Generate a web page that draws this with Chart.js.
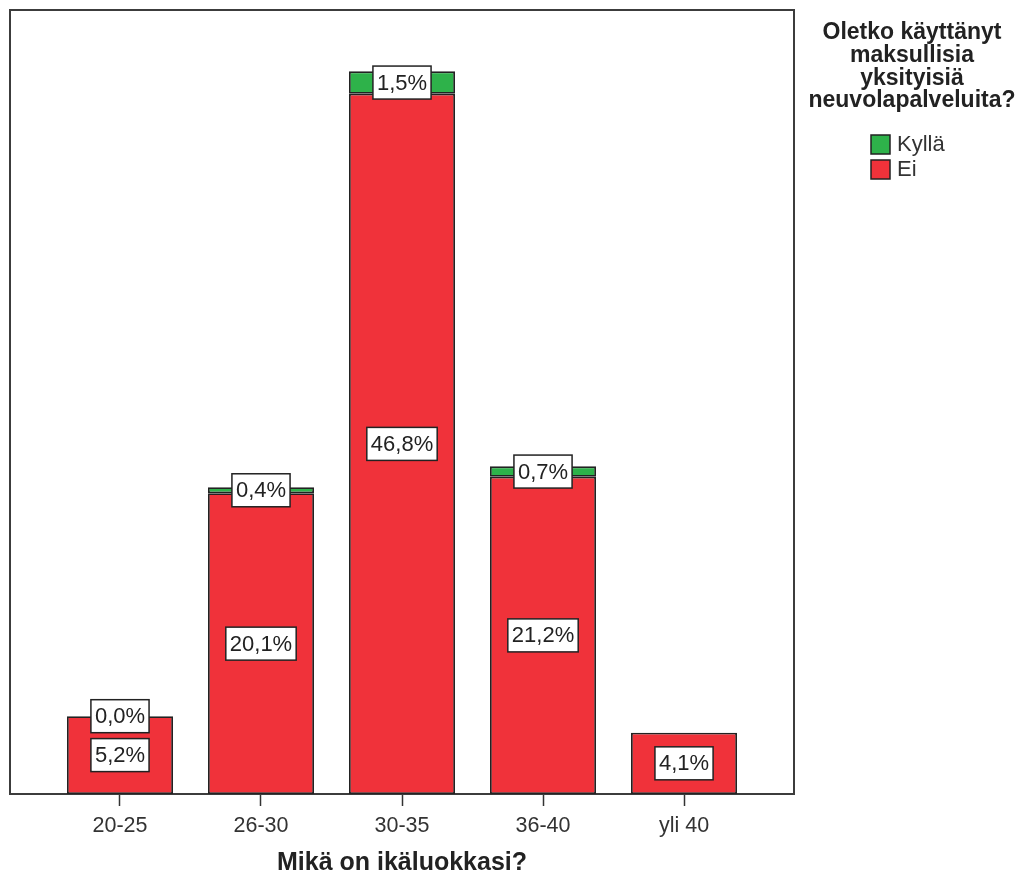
<!DOCTYPE html>
<html>
<head>
<meta charset="utf-8">
<script src="https://cdn.jsdelivr.net/npm/chart.js@4"></script>
<style>
  html, body { margin: 0; padding: 0; background: #ffffff; }
  #wrap { width: 1022px; height: 878px; position: relative; }
</style>
</head>
<body>
<div id="wrap"><canvas id="c" width="1022" height="878"></canvas></div>
<script>
// ---- data ----
const categories = ['20-25', '26-30', '30-35', '36-40', 'yli 40'];
const eiValues = [5.2, 20.1, 46.8, 21.2, 4.1];
const kyllaValues = [0.0, 0.4, 1.5, 0.7, null];
const seriesNames = ['Kyllä', 'Ei'];
const legendTitleLines = ['Oletko käyttänyt', 'maksullisia', 'yksityisiä', 'neuvolapalveluita?'];
const xAxisTitle = 'Mikä on ikäluokkasi?';

// ---- style ----
const RED = 'rgb(240,50,58)';
const GREEN = 'rgb(46,178,74)';
const INK = '#222222';
const FONT = '"Liberation Sans", Arial, sans-serif';

const fmt = v => v.toFixed(1).replace('.', ',') + '%';

const framePlugin = {
  id: 'frame',
  beforeDatasetsDraw(chart) {
    const a = chart.chartArea, ctx = chart.ctx;
    ctx.save();
    ctx.strokeStyle = '#3c3c3c';
    ctx.lineWidth = 2;
    ctx.strokeRect(a.left, a.top, a.right - a.left, a.bottom - a.top);
    ctx.restore();
  }
};

const labelPlugin = {
  id: 'boxLabels',
  afterDatasetsDraw(chart) {
    const ctx = chart.ctx;
    ctx.save();
    ctx.font = '22px ' + FONT;
    ctx.textAlign = 'center';
    ctx.textBaseline = 'middle';
    chart.data.datasets.forEach((ds, d) => {
      const meta = chart.getDatasetMeta(d);
      meta.data.forEach((el, i) => {
        const raw = ds.data[i];
        if (!raw || raw.y === null || raw.y === undefined) return;
        const txt = fmt(raw.y);
        const cx = el.x;
        const cy = (el.y + el.base) / 2;
        const w = ctx.measureText(txt).width + 8;
        const h = 33;
        ctx.fillStyle = '#ffffff';
        ctx.fillRect(cx - w / 2, cy - h / 2, w, h);
        ctx.strokeStyle = INK;
        ctx.lineWidth = 1.5;
        ctx.strokeRect(cx - w / 2, cy - h / 2, w, h);
        ctx.fillStyle = INK;
        ctx.fillText(txt, cx, cy + 1);
      });
    });
    ctx.restore();
  }
};

const legendPlugin = {
  id: 'sideLegend',
  afterDraw(chart) {
    const ctx = chart.ctx;
    ctx.save();
    ctx.fillStyle = INK;
    ctx.textAlign = 'center';
    ctx.textBaseline = 'middle';
    ctx.font = 'bold 23px ' + FONT;
    legendTitleLines.forEach((t, i) => ctx.fillText(t, 912, 33 + i * 22.7));
    // items in legend order: Kyllä, Ei
    const items = [chart.data.datasets[1], chart.data.datasets[0]];
    ctx.font = '22px ' + FONT;
    ctx.textAlign = 'left';
    items.forEach((ds, i) => {
      const y = 135 + i * 25;
      ctx.fillStyle = ds.backgroundColor;
      ctx.fillRect(871, y, 19, 19);
      ctx.strokeStyle = INK;
      ctx.lineWidth = 1.5;
      ctx.strokeRect(871, y, 19, 19);
      ctx.fillStyle = '#333333';
      ctx.fillText(ds.label, 897, y + 10);
    });
    ctx.restore();
  }
};

new Chart(document.getElementById('c'), {
  type: 'bar',
  data: {
    datasets: [
      {
        label: seriesNames[1],
        data: eiValues.map((v, i) => ({ x: i, y: v })),
        backgroundColor: RED,
        borderColor: INK,
        borderWidth: 1.8,
        borderSkipped: false,
        stack: 's'
      },
      {
        label: seriesNames[0],
        data: kyllaValues.map((v, i) => ({ x: i, y: v })),
        backgroundColor: GREEN,
        borderColor: INK,
        borderWidth: 1.8,
        borderSkipped: false,
        stack: 's'
      }
    ]
  },
  options: {
    responsive: false,
    animation: false,
    devicePixelRatio: 1,
    layout: { padding: { left: 10, top: 10, right: 228, bottom: 0 } },
    datasets: { bar: { barPercentage: 0.752, categoryPercentage: 1.0 } },
    plugins: {
      legend: { display: false },
      tooltip: { enabled: false }
    },
    scales: {
      x: {
        type: 'linear',
        stacked: true,
        offset: false,
        min: -0.78,
        max: 4.78,
        afterBuildTicks: s => { s.ticks = categories.map((c, i) => ({ value: i })); },
        afterFit: s => { s.height = 84; },
        border: { display: false },
        grid: { display: true, offset: false, drawOnChartArea: false, tickLength: 12, color: '#333333', tickWidth: 1.5 },
        ticks: {
          autoSkip: false,
          maxRotation: 0,
          padding: 7,
          color: '#333333',
          font: { family: FONT, size: 21.5 },
          callback: v => categories[v]
        },
        title: {
          display: true,
          text: xAxisTitle,
          color: INK,
          font: { family: FONT, size: 25, weight: 'bold' },
          padding: { top: 4, bottom: 0 }
        }
      },
      y: {
        display: false,
        stacked: true,
        min: 0,
        max: 52.4
      }
    }
  },
  plugins: [framePlugin, labelPlugin, legendPlugin]
});
</script>
</body>
</html>
